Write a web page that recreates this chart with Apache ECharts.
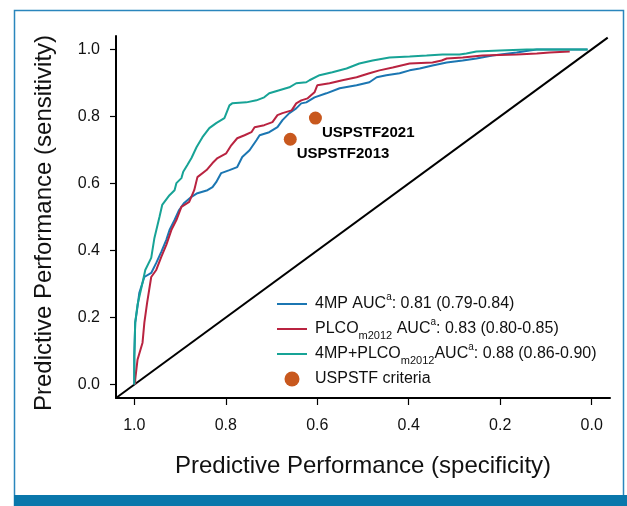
<!DOCTYPE html>
<html>
<head>
<meta charset="utf-8">
<script src="https://cdn.jsdelivr.net/npm/echarts@6/dist/echarts.min.js"></script>
<style>
  html, body { margin: 0; padding: 0; background: #fff; }
  #main { width: 627px; height: 506px; }
</style>
</head>
<body>
<div id="main"></div>
<script>
// ROC points: [specificity, sensitivity]
const fourMP = [
  [1.0, 0.0], [1.0, 0.083], [0.998, 0.185], [0.993, 0.232], [0.989, 0.274],
  [0.978, 0.321], [0.963, 0.333], [0.952, 0.363], [0.941, 0.396], [0.930, 0.432],
  [0.923, 0.461], [0.912, 0.491], [0.902, 0.521], [0.891, 0.542], [0.875, 0.560],
  [0.862, 0.571], [0.840, 0.580], [0.829, 0.589], [0.821, 0.604], [0.810, 0.631],
  [0.792, 0.640], [0.775, 0.649], [0.764, 0.679], [0.748, 0.699], [0.733, 0.729],
  [0.726, 0.744], [0.705, 0.753], [0.687, 0.768], [0.676, 0.789], [0.661, 0.810],
  [0.646, 0.824], [0.635, 0.839], [0.624, 0.842], [0.606, 0.857], [0.580, 0.869],
  [0.551, 0.884], [0.514, 0.893], [0.486, 0.902], [0.470, 0.917], [0.449, 0.923],
  [0.420, 0.929], [0.398, 0.9375], [0.376, 0.943], [0.348, 0.952], [0.317, 0.961],
  [0.282, 0.967], [0.252, 0.973], [0.217, 0.982], [0.164, 0.991], [0.136, 0.997],
  [0.120, 1.0], [0.009, 1.0]
];
const plco = [
  [0.998, 0.0], [0.998, 0.015], [0.993, 0.074], [0.982, 0.125], [0.978, 0.185],
  [0.972, 0.244], [0.963, 0.321], [0.952, 0.342], [0.941, 0.381], [0.930, 0.417],
  [0.919, 0.461], [0.908, 0.491], [0.897, 0.530], [0.880, 0.545], [0.869, 0.580],
  [0.862, 0.619], [0.842, 0.640], [0.829, 0.661], [0.818, 0.676], [0.799, 0.690],
  [0.788, 0.714], [0.775, 0.735], [0.759, 0.744], [0.744, 0.753], [0.737, 0.768],
  [0.716, 0.774], [0.698, 0.783], [0.687, 0.804], [0.676, 0.810], [0.656, 0.818],
  [0.646, 0.839], [0.635, 0.848], [0.621, 0.854], [0.606, 0.872], [0.600, 0.893],
  [0.573, 0.899], [0.545, 0.908], [0.514, 0.917], [0.486, 0.929], [0.464, 0.9375],
  [0.435, 0.946], [0.398, 0.958], [0.348, 0.961], [0.328, 0.967], [0.317, 0.973],
  [0.282, 0.976], [0.239, 0.982], [0.164, 0.985], [0.120, 0.988], [0.092, 0.991],
  [0.048, 0.994]
];
const combined = [
  [1.0, 0.0], [1.0, 0.083], [0.998, 0.185], [0.993, 0.238], [0.982, 0.304],
  [0.976, 0.342], [0.963, 0.378], [0.956, 0.4375], [0.945, 0.500], [0.939, 0.536],
  [0.923, 0.565], [0.912, 0.580], [0.908, 0.601], [0.897, 0.616], [0.893, 0.635],
  [0.884, 0.655], [0.875, 0.676], [0.864, 0.708], [0.851, 0.738], [0.836, 0.765],
  [0.821, 0.780], [0.803, 0.795], [0.792, 0.833], [0.786, 0.839], [0.755, 0.842],
  [0.733, 0.848], [0.716, 0.857], [0.705, 0.869], [0.683, 0.878], [0.661, 0.887],
  [0.646, 0.899], [0.624, 0.902], [0.617, 0.908], [0.595, 0.923], [0.567, 0.932],
  [0.536, 0.943], [0.508, 0.958], [0.479, 0.967], [0.442, 0.976], [0.398, 0.979],
  [0.361, 0.982], [0.326, 0.985], [0.289, 0.985], [0.274, 0.988], [0.252, 0.994],
  [0.201, 0.997], [0.142, 1.0], [0.009, 1.0]
];
const referenceLine = [[1.04, -0.04], [-0.035, 1.035]];

const uspstfNames = ["USPSTF2021", "USPSTF2013"];
const uspstfSpec = [0.604, 0.659];
const uspstfSens = [0.795, 0.732];

const tickValues = [0, 0.2, 0.4, 0.6, 0.8, 1.0];

const seriesNames = ["4MP", "PLCOm2012", "4MP+PLCOm2012", "USPSTF criteria"];
const legendLabels = {
  "4MP": "4MP AUC{sup|a}: 0.81 (0.79-0.84)",
  "PLCOm2012": "PLCO{sub|m2012} AUC{sup|a}: 0.83 (0.80-0.85)",
  "4MP+PLCOm2012": "4MP+PLCO{sub|m2012}AUC{sup|a}: 0.88 (0.86-0.90)",
  "USPSTF criteria": "USPSTF criteria"
};

const font = "'Liberation Sans', Arial, sans-serif";
// thin bar used as the legend icon of the ROC lines
const lineIcon = "path://M0,0h30v2h-30z";

let dom = document.getElementById("main");
let myChart = echarts.init(dom, null, { renderer: "canvas" });

let option = {
  backgroundColor: "#fff",
  animation: false,
  textStyle: { fontFamily: font },
  grid: { left: 116, right: 17, top: 36, bottom: 108 },
  graphic: [
    {
      type: "rect",
      shape: { x: 14.5, y: 10.5, width: 609, height: 495 },
      style: { fill: "none", stroke: "#2a86bd", lineWidth: 1.5 },
      z: -1
    },
    {
      type: "rect",
      shape: { x: 14, y: 495, width: 613, height: 11 },
      style: { fill: "#0a77ab" },
      z: 10
    }
  ],
  legend: {
    data: seriesNames.map((n, i) => (i < 3 ? { name: n, icon: lineIcon } : { name: n, icon: "circle" })),
    orient: "vertical",
    left: 277,
    top: 292,
    padding: 0,
    itemWidth: 30,
    itemHeight: 15,
    itemGap: 1,
    formatter: (name) => legendLabels[name],
    textStyle: {
      fontSize: 16,
      lineHeight: 24,
      color: "#111",
      fontFamily: font,
      padding: [0, 0, 0, 3],
      rich: {
        sub: { fontSize: 11, lineHeight: 12, verticalAlign: "bottom", color: "#111" },
        sup: { fontSize: 10, lineHeight: 12, verticalAlign: "top", color: "#111" }
      }
    }
  },
  xAxis: {
    type: "value",
    inverse: true,
    min: -0.04,
    max: 1.04,
    name: "Predictive Performance (specificity)",
    nameLocation: "middle",
    nameGap: 56,
    nameTextStyle: { fontSize: 24, color: "#111", fontFamily: font },
    axisLine: { onZero: false, lineStyle: { color: "#000", width: 2 } },
    axisTick: { show: true, length: 7, customValues: tickValues, lineStyle: { color: "#000", width: 1.2 } },
    axisLabel: {
      customValues: tickValues,
      margin: 20,
      fontSize: 16,
      color: "#111",
      formatter: (v) => v.toFixed(1)
    },
    splitLine: { show: false }
  },
  yAxis: {
    type: "value",
    min: -0.04,
    max: 1.04,
    name: "Predictive Performance (sensitivity)",
    nameLocation: "middle",
    nameGap: 60,
    nameTextStyle: { fontSize: 24, color: "#111", fontFamily: font, padding: [0, 12, 0, 0] },
    axisLine: { onZero: false, lineStyle: { color: "#000", width: 2 } },
    axisTick: { show: true, length: 6, customValues: tickValues, lineStyle: { color: "#000", width: 1.2 } },
    axisLabel: {
      customValues: tickValues,
      margin: 16,
      fontSize: 16,
      color: "#111",
      formatter: (v) => v.toFixed(1)
    },
    splitLine: { show: false }
  },
  series: [
    {
      name: "reference",
      type: "line",
      data: referenceLine,
      symbol: "none",
      silent: true,
      lineStyle: { color: "#000", width: 2 },
      z: 1
    },
    {
      name: "4MP",
      type: "line",
      data: fourMP,
      symbol: "none",
      color: "#1b76b2",
      lineStyle: { color: "#1b76b2", width: 2 },
      z: 2
    },
    {
      name: "PLCOm2012",
      type: "line",
      data: plco,
      symbol: "none",
      color: "#b92340",
      lineStyle: { color: "#b92340", width: 2 },
      z: 3
    },
    {
      name: "4MP+PLCOm2012",
      type: "line",
      data: combined,
      symbol: "none",
      color: "#17a396",
      lineStyle: { color: "#17a396", width: 2 },
      z: 4
    },
    {
      name: "USPSTF criteria",
      type: "scatter",
      symbol: "circle",
      symbolSize: 13,
      color: "#c8581e",
      itemStyle: { color: "#c8581e", opacity: 1 },
      data: uspstfNames.map((n, i) => ({ name: n, value: [uspstfSpec[i], uspstfSens[i]] })),
      label: {
        show: true,
        position: "right",
        distance: 0,
        offset: [0, 15],
        formatter: (p) => p.name,
        fontSize: 15,
        fontWeight: "bold",
        color: "#000",
        fontFamily: font
      },
      z: 5
    }
  ]
};

if (option && typeof option === "object") {
  myChart.setOption(option);
}

window.addEventListener("resize", myChart.resize);
</script>
</body>
</html>
